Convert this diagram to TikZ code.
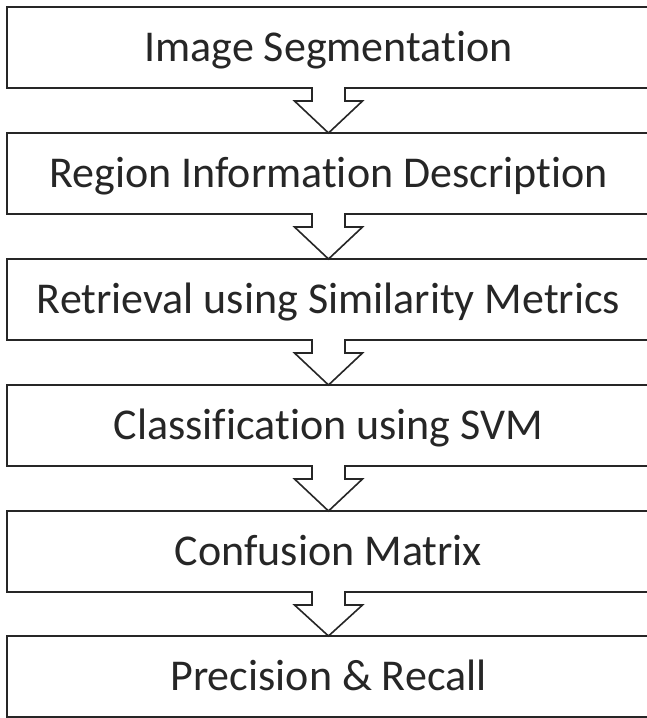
\documentclass[tikz,border=0pt]{standalone}
\usepackage{fontspec}
\setmainfont[Ligatures=NoCommon]{Carlito}
\usetikzlibrary{calc}
\begin{document}
\begin{tikzpicture}[x=1pt,y=-1pt,
  stepbox/.style={draw=black!85, line width=1.6pt, minimum width=643pt, minimum height=81pt,
    anchor=north west, inner sep=0pt, outer sep=0pt, text height=28pt, text depth=0pt,
    font=\fontsize{44}{52}\selectfont, text=black!85},
  blockarr/.style={draw=black!85, line width=1.6pt, fill=white, line join=miter}]
\useasboundingbox (0,0) rectangle (647,718);
\clip (0,0) rectangle (647,718);
\fill[white] (0,0) rectangle (647,718);
\node[stepbox] (b1) at (7,7)   {Image Segmentation};
\node[stepbox] (b2) at (7,133) {Region Information Description};
\node[stepbox] (b3) at (7,259) {Retrieval using Similarity Metrics};
\node[stepbox] (b4) at (7,385) {Classification using SVM};
\node[stepbox] (b5) at (7,511) {Confusion Matrix};
\node[stepbox] (b6) at (7,636) {Precision \& Recall};
\foreach \a/\b in {b1/b2,b2/b3,b3/b4,b4/b5,b5/b6}{
  \fill[white] ($(\a.south)+(-15.5,-1.5)$) rectangle ($(\a.south)+(15.5,2)$);
  \draw[blockarr] ($(\a.south)+(-16.5,0)$) -- ++(0,13) -- ++(-17.5,0) -- (\b.north)
    -- ($(\a.south)+(34,13)$) -- ++(-17.5,0) -- ++(0,-13);
}
\end{tikzpicture}
\end{document}
